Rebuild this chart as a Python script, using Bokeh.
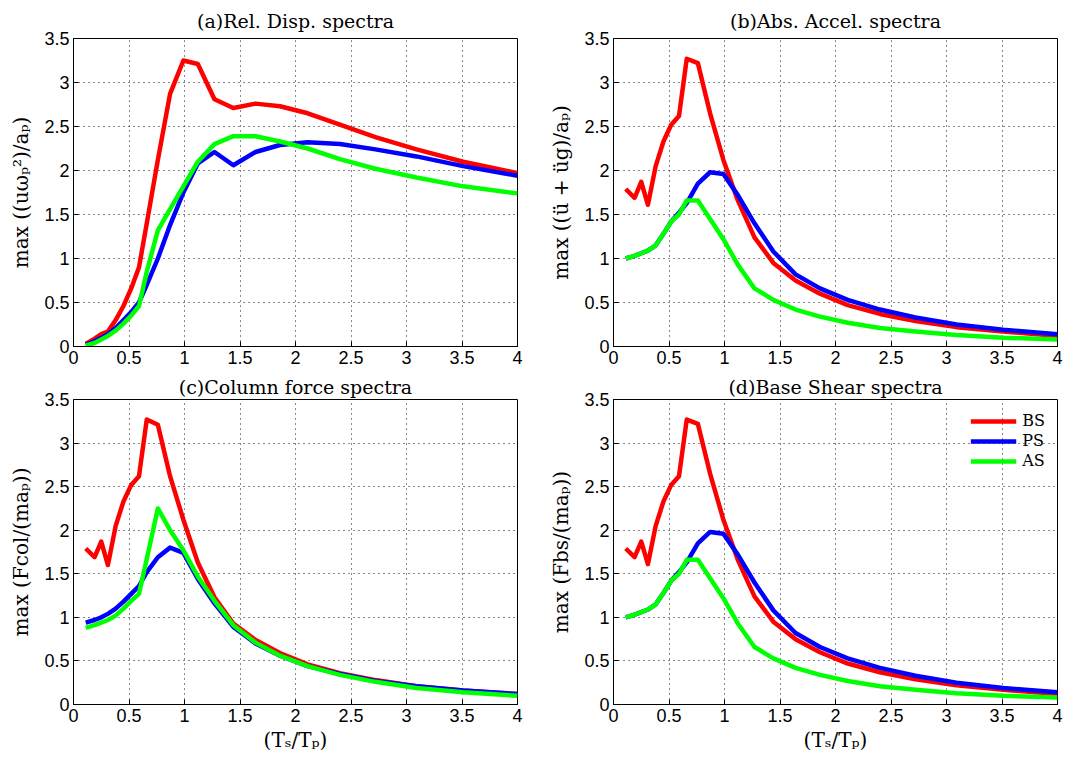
from bokeh.plotting import figure
from bokeh.layouts import column, row
from bokeh.models import Range1d, FixedTicker, Legend, LegendItem
from bokeh.embed import file_html
from bokeh.resources import INLINE

# ---------------- data ----------------
x_ratio = [0.11, 0.19, 0.25, 0.31, 0.38, 0.45, 0.52, 0.59, 0.66, 0.76, 0.87, 0.99,
           1.12, 1.27, 1.44, 1.64, 1.86, 2.11, 2.40, 2.72, 3.09, 3.51, 4.00]

# (a) relative displacement spectra
bs_rel_disp = [0.03, 0.09, 0.14, 0.17, 0.30, 0.46, 0.66, 0.90, 1.40, 2.12, 2.87, 3.25,
               3.21, 2.81, 2.71, 2.76, 2.73, 2.65, 2.52, 2.38, 2.24, 2.10, 1.97]
ps_rel_disp = [0.02, 0.06, 0.10, 0.14, 0.21, 0.30, 0.39, 0.50, 0.70, 1.00, 1.38, 1.75,
               2.08, 2.21, 2.06, 2.21, 2.29, 2.32, 2.30, 2.24, 2.16, 2.05, 1.94]
as_rel_disp = [0.01, 0.04, 0.08, 0.12, 0.18, 0.26, 0.35, 0.46, 0.85, 1.32, 1.56, 1.82,
               2.10, 2.30, 2.39, 2.39, 2.33, 2.25, 2.13, 2.02, 1.92, 1.82, 1.74]

# (b) absolute acceleration spectra
bs_abs_acc = [1.79, 1.69, 1.87, 1.61, 2.05, 2.33, 2.52, 2.62, 3.27, 3.22, 2.65, 2.12,
              1.66, 1.24, 0.95, 0.75, 0.60, 0.47, 0.37, 0.29, 0.22, 0.17, 0.12]
ps_abs_acc = [1.00, 1.03, 1.06, 1.09, 1.15, 1.28, 1.42, 1.52, 1.63, 1.85, 1.98, 1.96,
              1.72, 1.40, 1.08, 0.82, 0.66, 0.53, 0.42, 0.33, 0.25, 0.19, 0.14]
as_abs_acc = [1.00, 1.03, 1.06, 1.09, 1.15, 1.28, 1.42, 1.50, 1.66, 1.66, 1.45, 1.22,
              0.93, 0.66, 0.53, 0.42, 0.34, 0.27, 0.21, 0.17, 0.13, 0.10, 0.08]

# (c) column force spectra
bs_col_force = [1.79, 1.69, 1.87, 1.60, 2.05, 2.33, 2.52, 2.62, 3.27, 3.21, 2.62, 2.12,
                1.63, 1.23, 0.93, 0.74, 0.59, 0.46, 0.36, 0.28, 0.21, 0.16, 0.12]
ps_col_force = [0.94, 0.97, 1.00, 1.04, 1.10, 1.18, 1.27, 1.36, 1.52, 1.69, 1.80, 1.74,
                1.44, 1.16, 0.89, 0.70, 0.56, 0.44, 0.35, 0.27, 0.21, 0.16, 0.12]
as_col_force = [0.88, 0.91, 0.94, 0.97, 1.02, 1.10, 1.19, 1.27, 1.67, 2.25, 2.00, 1.77,
                1.47, 1.19, 0.91, 0.71, 0.56, 0.44, 0.34, 0.26, 0.19, 0.14, 0.10]

# (d) base shear spectra
bs_base_shear = [1.79, 1.69, 1.87, 1.61, 2.05, 2.33, 2.52, 2.62, 3.27, 3.22, 2.65, 2.12,
                 1.66, 1.24, 0.95, 0.75, 0.60, 0.47, 0.37, 0.29, 0.22, 0.17, 0.12]
ps_base_shear = [1.00, 1.03, 1.06, 1.09, 1.15, 1.28, 1.42, 1.52, 1.63, 1.85, 1.98, 1.96,
                 1.72, 1.40, 1.08, 0.82, 0.66, 0.53, 0.42, 0.33, 0.25, 0.19, 0.14]
as_base_shear = [1.00, 1.03, 1.06, 1.09, 1.15, 1.28, 1.42, 1.50, 1.66, 1.66, 1.45, 1.22,
                 0.93, 0.66, 0.53, 0.42, 0.34, 0.27, 0.21, 0.17, 0.13, 0.10, 0.08]

series_names = ["BS", "PS", "AS"]
series_colors = ["#FF0000", "#0000FF", "#00FF00"]

x_ticks = [0, 0.5, 1, 1.5, 2, 2.5, 3, 3.5, 4]
x_tick_labels = ["0", "0.5", "1", "1.5", "2", "2.5", "3", "3.5", "4"]
y_ticks = [0, 0.5, 1, 1.5, 2, 2.5, 3, 3.5]
y_tick_labels = ["0", "0.5", "1", "1.5", "2", "2.5", "3", "3.5"]

titles = ["(a)Rel. Disp. spectra", "(b)Abs. Accel. spectra",
          "(c)Column force spectra", "(d)Base Shear spectra"]
y_labels = ["max ((uω\u209a²)/a\u209a)", "max ((ü + üg)/a\u209a)",
            "max (Fcol/(ma\u209a))", "max (Fbs/(ma\u209a))"]
x_label = "(T\u209b/T\u209a)"

SERIF = "DejaVu Serif"
SANS = "Liberation Sans"


def make_panel(title, ylab, ys, left, right, top, bottom, width, height, standoff,
               show_xlabel=False, legend=False):
    p = figure(width=width, height=height, output_backend="svg", toolbar_location=None,
               x_range=Range1d(0, 4), y_range=Range1d(0, 3.5),
               min_border_left=left, min_border_right=right,
               min_border_top=top, min_border_bottom=bottom)
    p.title.text = title
    p.title.align = "center"
    p.title.text_font = SERIF
    p.title.text_font_size = "19px"
    p.title.text_font_style = "normal"
    p.title.text_color = "black"
    p.title.standoff = standoff
    p.outline_line_color = "black"
    p.outline_line_width = 1
    p.background_fill_color = "white"
    p.border_fill_color = "white"

    p.xaxis.ticker = FixedTicker(ticks=x_ticks)
    p.yaxis.ticker = FixedTicker(ticks=y_ticks)
    p.xaxis.major_label_overrides = {t: l for t, l in zip(x_ticks, x_tick_labels)}
    p.yaxis.major_label_overrides = {t: l for t, l in zip(y_ticks, y_tick_labels)}
    for ax in (p.xaxis[0], p.yaxis[0]):
        ax.major_tick_in = 5
        ax.major_tick_out = 0
        ax.minor_tick_in = 0
        ax.minor_tick_out = 0
        ax.axis_line_color = "black"
        ax.major_tick_line_color = "black"
        ax.major_label_text_font = SANS
        ax.major_label_text_font_size = "18px"
        ax.major_label_text_color = "black"
        ax.major_label_standoff = 4
        ax.axis_label_text_font = SERIF
        ax.axis_label_text_font_size = "20px"
        ax.axis_label_text_font_style = "normal"
        ax.axis_label_text_color = "black"
    p.yaxis.axis_label = ylab
    p.yaxis.axis_label_standoff = 8
    if show_xlabel:
        p.xaxis.axis_label = x_label
        p.xaxis.axis_label_standoff = 3

    p.grid.grid_line_color = "#111111"
    p.grid.grid_line_dash = "1 4"
    p.grid.grid_line_width = 1

    renderers = []
    for yv, c in zip(ys, series_colors):
        r = p.line(x_ratio, yv, line_color=c, line_width=4.5, line_join="round")
        renderers.append(r)

    if legend:
        items = [LegendItem(label=n, renderers=[r]) for n, r in zip(series_names, renderers)]
        lg = Legend(items=items, location="top_right")
        lg.border_line_alpha = 0
        lg.background_fill_alpha = 0
        lg.label_text_font = SERIF
        lg.label_text_font_size = "16px"
        lg.label_text_color = "black"
        lg.glyph_width = 46
        lg.glyph_height = 14
        lg.label_height = 14
        lg.label_standoff = 6
        lg.spacing = 1
        lg.padding = 4
        lg.margin = 8
        p.add_layout(lg)
    return p


p1 = make_panel(titles[0], y_labels[0], [bs_rel_disp, ps_rel_disp, as_rel_disp],
                73, 23, 38, 23, 540, 369, 13)
p2 = make_panel(titles[1], y_labels[1], [bs_abs_acc, ps_abs_acc, as_abs_acc],
                73, 20, 38, 23, 537, 369, 13)
p3 = make_panel(titles[2], y_labels[2], [bs_col_force, ps_col_force, as_col_force],
                73, 23, 30, 47, 540, 385, 3, show_xlabel=True)
p4 = make_panel(titles[3], y_labels[3], [bs_base_shear, ps_base_shear, as_base_shear],
                73, 20, 30, 47, 537, 385, 3, show_xlabel=True, legend=True)

layout = column(row(p1, p2), row(p3, p4))

with open("out.html", "w") as f:
    f.write(file_html(layout, INLINE))
